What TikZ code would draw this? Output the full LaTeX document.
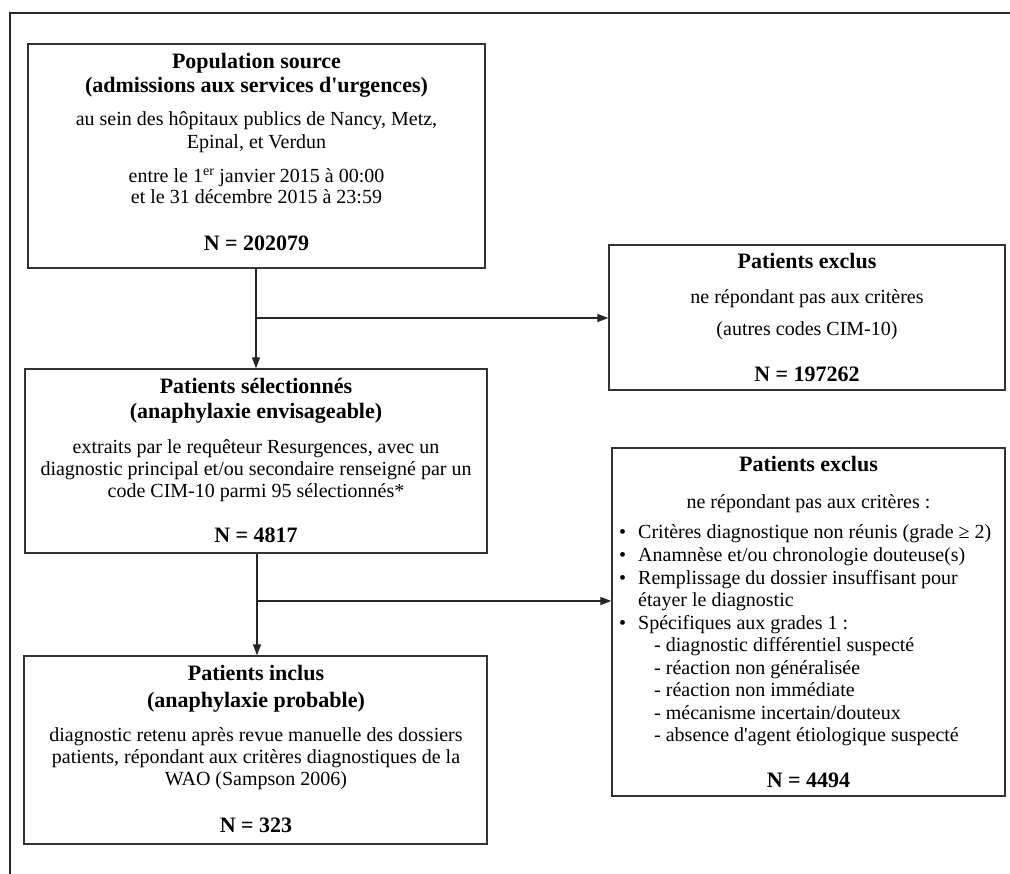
\documentclass[tikz,border=0pt]{standalone}
\usepackage{fontspec}
\setmainfont{Liberation Serif}[Ligatures=TeXOff]
\usetikzlibrary{arrows.meta}
\begin{document}
\begin{tikzpicture}[x=1pt,y=-1pt,
  box/.style={draw=black!80,line width=1.3pt,inner sep=0pt},
  txt/.style={anchor=base,inner sep=0pt,font=\fontsize{20}{22}\selectfont},
  ttl/.style={txt,font=\fontsize{22}{24}\selectfont\bfseries},
  lft/.style={anchor=base west,inner sep=0pt,font=\fontsize{20}{22}\selectfont},
  conn/.style={draw=black!85,line width=1.2pt},
  arr/.style={conn,-{Triangle[length=11pt,width=8pt]}}]
\useasboundingbox (0,0) rectangle (1010,874);
\draw[line width=1.8pt,black!85] (1012,13) -- (10,13) -- (10,876);
% boxes
\node[box,minimum width=457pt,minimum height=224pt] (b1) at (256.5,156) {};
\node[box,minimum width=396pt,minimum height=145pt] (b2) at (807,317.5) {};
\node[box,minimum width=462pt,minimum height=184pt] (b3) at (256,461) {};
\node[box,minimum width=393pt,minimum height=348pt] (b4) at (808.5,622) {};
\node[box,minimum width=463pt,minimum height=188pt] (b5) at (255.5,750) {};
% box 1 text
\node[ttl] (b1t1) at (256.5,69) {Population source};
\node[ttl] (b1t2) at (256.5,93) {(admissions aux services d'urgences)};
\node[txt] (b1l1) at (256.5,126) {au sein des hôpitaux publics de Nancy, Metz,};
\node[txt] (b1l2) at (256.5,149) {Epinal, et Verdun};
\node[txt] (b1l3) at (256.5,183) {entre le 1\textsuperscript{er} janvier 2015 à 00:00};
\node[txt] (b1l4) at (256.5,204) {et le 31 décembre 2015 à 23:59};
\node[ttl] (b1n) at (256.5,251) {N = 202079};
% box 2 text
\node[ttl] (b2t1) at (807,269) {Patients exclus};
\node[txt] (b2l1) at (807,304) {ne répondant pas aux critères};
\node[txt] (b2l2) at (807,336) {(autres codes CIM-10)};
\node[ttl] (b2n) at (807,382) {N = 197262};
% box 3 text
\node[ttl] (b3t1) at (256,394) {Patients sélectionnés};
\node[ttl] (b3t2) at (256,419) {(anaphylaxie envisageable)};
\node[txt] (b3l1) at (256,454) {extraits par le requêteur Resurgences, avec un};
\node[txt] (b3l2) at (256,476) {diagnostic principal et/ou secondaire renseigné par un};
\node[txt] (b3l3) at (256,498) {code CIM-10 parmi 95 sélectionnés*};
\node[ttl] (b3n) at (256,542) {N = 4817};
% box 4 text
\node[ttl] (b4t1) at (808.5,472) {Patients exclus};
\node[txt] (b4l0) at (808.5,508) {ne répondant pas aux critères :};
\node[lft] (b4p1) at (619,538) {•};
\node[lft] (b4l1) at (638,538) {Critères diagnostique non réunis (grade ≥ 2)};
\node[lft] (b4p2) at (619,561) {•};
\node[lft] (b4l2) at (638,561) {Anamnèse et/ou chronologie douteuse(s)};
\node[lft] (b4p3) at (619,584) {•};
\node[lft] (b4l3) at (638,584) {Remplissage du dossier insuffisant pour};
\node[lft] (b4l4) at (638,606) {étayer le diagnostic};
\node[lft] (b4p4) at (619,629) {•};
\node[lft] (b4l5) at (638,629) {Spécifiques aux grades 1 :};
\node[lft] (b4l6) at (654,651) {- diagnostic différentiel suspecté};
\node[lft] (b4l7) at (654,674) {- réaction non généralisée};
\node[lft] (b4l8) at (654,696) {- réaction non immédiate};
\node[lft] (b4l9) at (654,719) {- mécanisme incertain/douteux};
\node[lft] (b4l10) at (654,741) {- absence d'agent étiologique suspecté};
\node[ttl] (b4n) at (808.5,787) {N = 4494};
% box 5 text
\node[ttl] (b5t1) at (256,680) {Patients inclus};
\node[ttl] (b5t2) at (256,707) {(anaphylaxie probable)};
\node[txt] (b5l1) at (256,741) {diagnostic retenu après revue manuelle des dossiers};
\node[txt] (b5l2) at (256,763) {patients, répondant aux critères diagnostiques de la};
\node[txt] (b5l3) at (256,785) {WAO (Sampson 2006)};
\node[ttl] (b5n) at (256,832) {N = 323};
% connectors
\coordinate (j1) at (256,318);
\coordinate (j2) at (257,601);
\draw[arr] (b1.south -| j1) -- (b3.north -| j1);
\draw[arr] (j1) -- (j1 -| b2.west);
\draw[arr] (b3.south -| j2) -- (b5.north -| j2);
\draw[arr] (j2) -- (j2 -| b4.west);
\end{tikzpicture}
\end{document}
